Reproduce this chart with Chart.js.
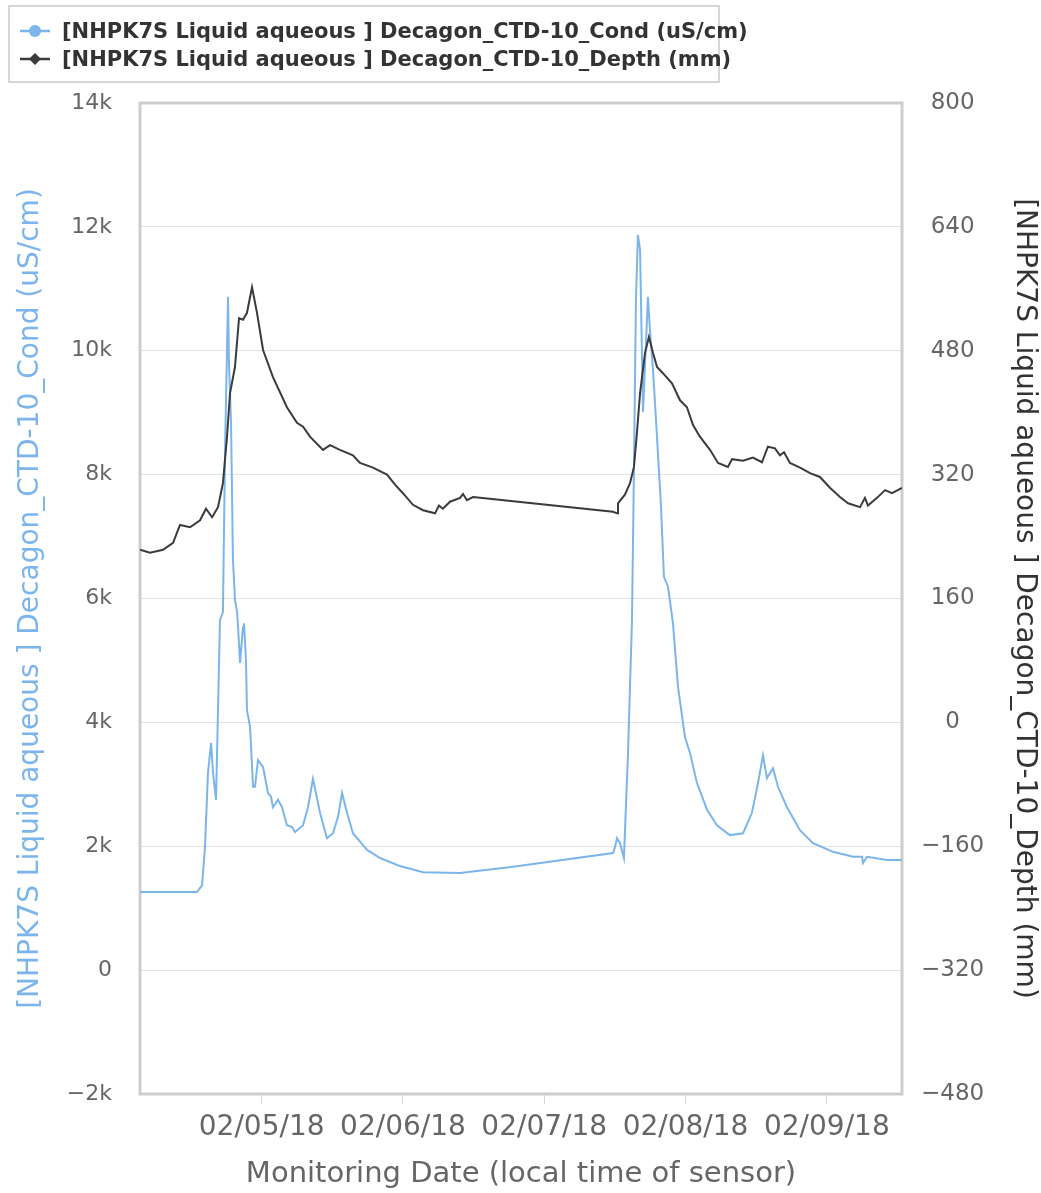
<!DOCTYPE html>
<html lang="en">
  <head>
    <meta charset="UTF-8" />
    <title>NHPK7S Decagon CTD-10</title>
    <script src="https://cdn.jsdelivr.net/npm/chart.js@4.4.0/dist/chart.umd.min.js"></script>
    <style>
      body {
        margin: 0;
        background: #fff;
        font-family: 'DejaVu Sans', sans-serif;
      }
      .wrap {
        position: relative;
        width: 1041px;
        height: 1193px;
      }
      #legend {
        position: absolute;
        left: 8px;
        top: 5px;
        width: 712px;
        height: 78px;
        box-sizing: border-box;
        border: 2px solid #d6d6d6;
        padding: 10px 0 0 10px;
        overflow: visible;
      }
      .item {
        display: flex;
        align-items: center;
        width: max-content;
        height: 28px;
        white-space: nowrap;
        font: bold 21px 'DejaVu Sans', sans-serif;
        color: #333;
      }
      .item svg {
        flex-shrink: 0;
        margin-right: 12px;
      }
    </style>
  </head>
  <body>
    <div class="wrap">
      <canvas id="chart" width="1041" height="1193"></canvas>
      <div id="legend"></div>
    </div>

    <script>
      // x values are days of February 2018 (local time of sensor)
      const seriesNames = [
        '[NHPK7S Liquid aqueous ] Decagon_CTD-10_Cond (uS/cm)',
        '[NHPK7S Liquid aqueous ] Decagon_CTD-10_Depth (mm)',
      ];
      const seriesColors = ['#7cb5ec', '#3b3b3d'];

      const xTickDays = [5, 6, 7, 8, 9];
      const xTickLabels = ['02/05/18', '02/06/18', '02/07/18', '02/08/18', '02/09/18'];
      const condTickValues = [-2000, 0, 2000, 4000, 6000, 8000, 10000, 12000, 14000];
      const condTickLabels = ['\u22122k', '0', '2k', '4k', '6k', '8k', '10k', '12k', '14k'];
      const depthTickValues = [-480, -320, -160, 0, 160, 320, 480, 640, 800];
      const depthTickLabels = ['\u2212480', '\u2212320', '\u2212160', '0', '160', '320', '480', '640', '800'];

      const condTime = [
        4.139, 4.542, 4.578, 4.599, 4.62, 4.642, 4.656, 4.677, 4.691, 4.705,
        4.726, 4.741, 4.762, 4.769, 4.783, 4.797, 4.811, 4.826, 4.833, 4.847,
        4.868, 4.875, 4.889, 4.896, 4.918, 4.939, 4.953, 4.974, 5.01, 5.045,
        5.066, 5.08, 5.116, 5.144, 5.179, 5.215, 5.236, 5.293, 5.328, 5.363,
        5.413, 5.462, 5.505, 5.54, 5.569, 5.604, 5.646, 5.746, 5.838, 5.979,
        6.142, 6.404, 6.779, 7.487, 7.501, 7.515, 7.536, 7.564, 7.593, 7.621,
        7.635, 7.649, 7.663, 7.678, 7.699, 7.734, 7.748, 7.77, 7.798, 7.826,
        7.847, 7.876, 7.911, 7.947, 7.996, 8.031, 8.081, 8.152, 8.222, 8.314,
        8.407, 8.47, 8.513, 8.548, 8.576, 8.619, 8.654, 8.718, 8.81, 8.902,
        9.044, 9.185, 9.249, 9.256, 9.284, 9.426, 9.532,
      ];
      const condValue = [
        1260, 1260, 1370, 1990, 3180, 3670, 3180, 2750, 4200, 5650,
        5780, 8400, 10870, 9770, 8880, 6620, 5980, 5780, 5540, 4960,
        5540, 5600, 5010, 4200, 3930, 2960, 2960, 3390, 3280, 2860,
        2800, 2630, 2750, 2630, 2340, 2310, 2230, 2340, 2630, 3090,
        2540, 2130, 2210, 2470, 2860, 2540, 2210, 1940, 1810, 1680,
        1580, 1570, 1670, 1890, 1990, 2130, 2050, 1810, 3510, 5650,
        8120, 10820, 11870, 11630, 9010, 10870, 10340, 9690, 8610, 7510,
        6350, 6190, 5600, 4570, 3760, 3510, 3020, 2590, 2340, 2180,
        2210, 2540, 3020, 3470, 3100, 3260, 2960, 2630, 2260, 2050,
        1910, 1830, 1830, 1730, 1830, 1780, 1780,
      ];

      const depthTime = [
        4.139, 4.21, 4.302, 4.373, 4.422, 4.493, 4.564, 4.606, 4.649, 4.691,
        4.726, 4.755, 4.776, 4.811, 4.84, 4.868, 4.896, 4.932, 4.967, 5.01,
        5.08, 5.179, 5.25, 5.293, 5.342, 5.434, 5.484, 5.554, 5.646, 5.696,
        5.788, 5.887, 5.944, 6.0, 6.071, 6.142, 6.227, 6.255, 6.283, 6.333,
        6.404, 6.425, 6.453, 6.496, 6.545, 7.487, 7.515, 7.522, 7.571, 7.607,
        7.635, 7.656, 7.678, 7.713, 7.741, 7.77, 7.798, 7.84, 7.904, 7.961,
        8.01, 8.053, 8.102, 8.173, 8.23, 8.3, 8.329, 8.407, 8.477, 8.541,
        8.583, 8.633, 8.668, 8.697, 8.739, 8.81, 8.881, 8.951, 9.022, 9.093,
        9.15, 9.235, 9.27, 9.291, 9.355, 9.412, 9.461, 9.532,
      ];
      const depthValue = [
        223, 219, 223, 232, 255, 252, 261, 276, 265, 278,
        309, 369, 425, 459, 522, 520, 529, 562, 529, 481,
        446, 407, 387, 382, 369, 352, 358, 352, 345, 335,
        329, 320, 307, 296, 281, 274, 270, 280, 276, 285,
        290, 295, 287, 291, 290, 272, 270, 283, 294, 309,
        330, 374, 425, 477, 498, 477, 459, 451, 438, 416,
        407, 384, 369, 352, 335, 330, 340, 338, 342, 336,
        356, 354, 345, 349, 335, 329, 322, 317, 303, 291,
        283, 278, 290, 280, 290, 300, 296, 303,
      ];

      // legend (html, two stacked rows in a bordered box)
      const legendEl = document.getElementById('legend');
      seriesNames.forEach((name, i) => {
        const c = seriesColors[i];
        const mark =
          i === 0
            ? '<circle cx="15" cy="7" r="6" fill="' + c + '"/>'
            : '<path d="M15 1 L21 7 L15 13 L9 7 Z" fill="' + c + '"/>';
        const row = document.createElement('div');
        row.className = 'item';
        row.innerHTML =
          '<svg width="30" height="14"><line x1="0" y1="7" x2="30" y2="7" stroke="' +
          c + '" stroke-width="2.5"/>' + mark + '</svg><span></span>';
        row.querySelector('span').textContent = name;
        legendEl.appendChild(row);
      });

      const plotBorder = {
        id: 'plotBorder',
        beforeDatasetsDraw(chart) {
          const { ctx, chartArea: a } = chart;
          ctx.save();
          ctx.strokeStyle = '#cdcdcd';
          ctx.lineWidth = 3;
          ctx.strokeRect(a.left, a.top, a.right - a.left, a.bottom - a.top);
          ctx.restore();
        },
      };

      const fontFamily = "'DejaVu Sans', sans-serif";

      new Chart(document.getElementById('chart'), {
        type: 'line',
        data: {
          datasets: [
            {
              label: seriesNames[0],
              data: condTime.map((t, i) => ({ x: t, y: condValue[i] })),
              borderColor: seriesColors[0],
              borderWidth: 2,
              pointRadius: 0,
              yAxisID: 'y',
              order: 1,
            },
            {
              label: seriesNames[1],
              data: depthTime.map((t, i) => ({ x: t, y: depthValue[i] })),
              borderColor: seriesColors[1],
              borderWidth: 2,
              pointRadius: 0,
              yAxisID: 'y1',
              order: 0,
            },
          ],
        },
        options: {
          responsive: false,
          animation: false,
          layout: { padding: { top: 103, left: 0, right: 0, bottom: 0 } },
          plugins: { legend: { display: false }, tooltip: { enabled: false } },
          scales: {
            x: {
              type: 'linear',
              min: 4.139,
              max: 9.532,
              afterBuildTicks: (s) => {
                s.ticks = xTickDays.map((v) => ({ value: v }));
              },
              afterFit: (s) => {
                s.height = 99;
              },
              border: { display: false },
              grid: {
                drawOnChartArea: false,
                drawTicks: true,
                tickLength: 10,
                color: '#cfd6e3',
                lineWidth: 1,
              },
              ticks: {
                autoSkip: false,
                maxRotation: 0,
                padding: 7,
                color: '#666',
                font: { family: fontFamily, size: 28 },
                callback: (v) => xTickLabels[xTickDays.indexOf(v)],
              },
              title: {
                display: true,
                text: 'Monitoring Date (local time of sensor)',
                color: '#666',
                font: { family: fontFamily, size: 29 },
                padding: { top: 0, bottom: 1 },
              },
            },
            y: {
              position: 'left',
              min: -2000,
              max: 14000,
              afterBuildTicks: (s) => {
                s.ticks = condTickValues.map((v) => ({ value: v }));
              },
              afterFit: (s) => {
                s.width = 140;
              },
              border: { display: false },
              grid: { color: '#e3e3e3', lineWidth: 1, drawTicks: false },
              ticks: {
                padding: 28,
                color: '#666',
                font: { family: fontFamily, size: 22 },
                callback: (v) => condTickLabels[condTickValues.indexOf(v)],
              },
              title: {
                display: true,
                text: seriesNames[0],
                color: '#7cb5ec',
                font: { family: fontFamily, size: 28 },
                padding: { top: 14, bottom: 0 },
              },
            },
            y1: {
              position: 'right',
              min: -480,
              max: 800,
              afterBuildTicks: (s) => {
                s.ticks = depthTickValues.map((v) => ({ value: v }));
              },
              afterFit: (s) => {
                s.width = 139;
              },
              border: { display: false },
              grid: { display: false, drawTicks: false },
              ticks: {
                padding: 19,
                crossAlign: 'center',
                color: '#666',
                font: { family: fontFamily, size: 23 },
                callback: (v) => depthTickLabels[depthTickValues.indexOf(v)],
              },
              title: {
                display: true,
                text: seriesNames[1],
                color: '#333',
                font: { family: fontFamily, size: 28 },
                padding: { top: 0, bottom: 0 },
              },
            },
          },
        },
        plugins: [plotBorder],
      });
    </script>
  </body>
</html>
